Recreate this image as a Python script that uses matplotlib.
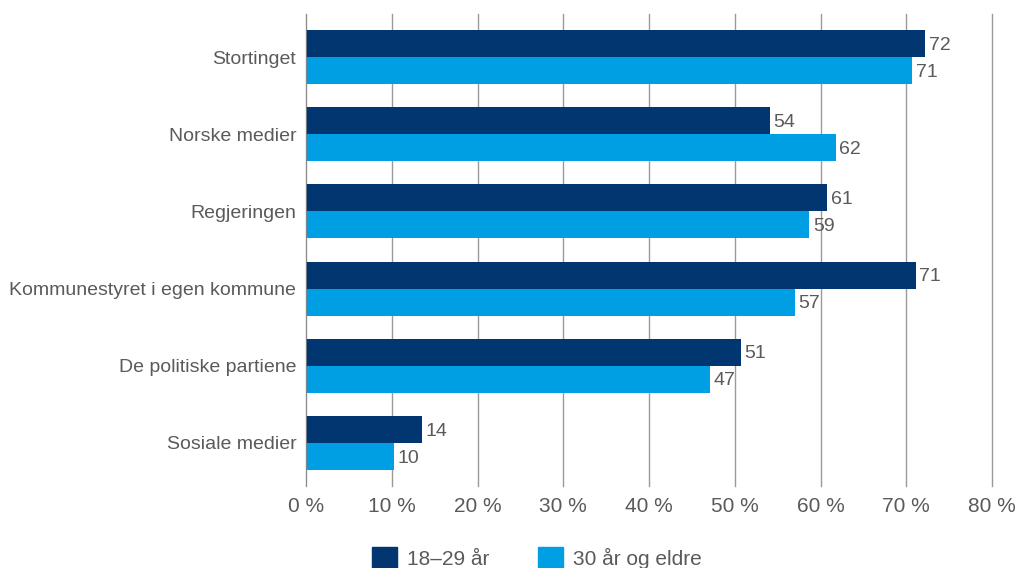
import numpy as np
from matplotlib import pyplot as plt
from matplotlib.patches import Patch

categories = ['Stortinget', 'Norske medier', 'Regjeringen',
              'Kommunestyret i egen kommune', 'De politiske partiene', 'Sosiale medier']
young = [72.2, 54.1, 60.8, 71.1, 50.7, 13.5]
older = [70.7, 61.8, 58.7, 57.0, 47.1, 10.3]
series_names = ['18–29 år', '30 år og eldre']
ticks = [0, 10, 20, 30, 40, 50, 60, 70, 80]

dark = '#023670'
light = '#009fe3'
text_c = '#5a5a5a'
grid_c = '#9a9a9a'

plt.rcParams['font.family'] = ['Liberation Sans', 'DejaVu Sans']

fig = plt.figure(figsize=(10.19, 5.68), dpi=100)
ax = fig.add_axes([306/1019, 1-486/568, 686/1019, 472/568])

y = np.arange(len(categories))
h = 0.35
ax.barh(y - h/2, young, height=h, color=dark, zorder=3)
ax.barh(y + h/2, older, height=h, color=light, zorder=3)

for i in range(len(categories)):
    ax.text(young[i] + 0.4, y[i] - h/2 + 0.02, f"{young[i]:.0f}", va='center', ha='left',
            fontsize=14, color=text_c)
    ax.text(older[i] + 0.4, y[i] + h/2 + 0.02, f"{older[i]:.0f}", va='center', ha='left',
            fontsize=14, color=text_c)

ax.set_xlim(0, 80)
ax.set_ylim(len(categories) - 0.443, -0.557)
ax.set_xticks(ticks)
ax.set_xticklabels([f"{t} %" for t in ticks], fontsize=15, color=text_c)
ax.set_yticks(y)
ax.set_yticklabels(categories, fontsize=14, color=text_c)
ax.tick_params(axis='both', length=0)
ax.tick_params(axis='x', pad=8)
ax.tick_params(axis='y', pad=7)
ax.grid(axis='x', color=grid_c, linewidth=1, zorder=0)
for gl in ax.get_xgridlines():
    gl.set_clip_on(False)
for s in ax.spines.values():
    s.set_visible(False)
ax.axvline(0, color='#888888', linewidth=1.2, zorder=4)

handles = [Patch(color=dark), Patch(color=light)]
fig.legend(handles, series_names, loc='lower center', bbox_to_anchor=(537/1019, -0.035),
           ncol=2, frameon=False, fontsize=15, labelcolor=text_c,
           handlelength=1.2, handleheight=1.2, columnspacing=2.3, handletextpad=0.5)

fig.savefig('out.png', dpi=100)
